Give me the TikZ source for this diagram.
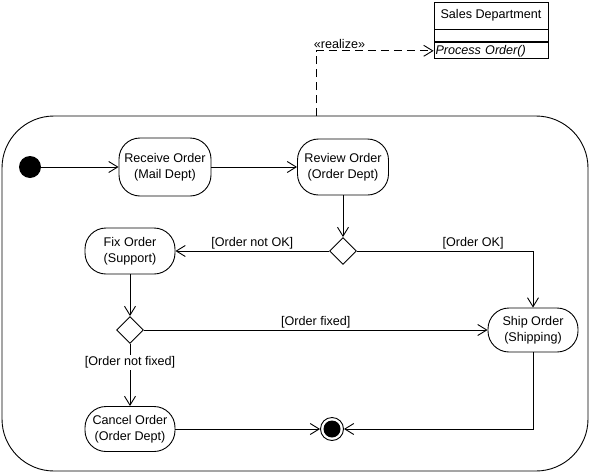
\documentclass[tikz,border=0pt]{standalone}
\usepackage{fontspec}
\setmainfont{Liberation Sans}
\usetikzlibrary{arrows.meta,positioning,shapes.geometric}

\tikzset{
  activity/.style={draw, rectangle, rounded corners=21pt, minimum width=90pt, minimum height=46pt, align=center, inner sep=0pt, font=\fontsize{12.6}{16.5}\selectfont},
  decision/.style={draw, diamond, minimum width=27pt, minimum height=27pt, inner sep=0pt},
  guard/.style={font=\fontsize{12.6}{14}\selectfont, inner sep=1.5pt},
  classpart/.style={draw, rectangle, minimum width=114pt, inner sep=0pt, font=\fontsize{12.6}{14}\selectfont},
  flow/.style={-{Straight Barb[length=9pt,width=11pt]}},
}

\begin{document}
\begin{tikzpicture}[x=1pt, y=-1pt, line width=0.9pt]
    \useasboundingbox (0,0) rectangle (591,474);

    % Activity region
    \node[draw, rounded corners=52pt, minimum width=586pt, minimum height=355pt, inner sep=0pt] (region) at (295,293.5) {};

    % Class
    \node[classpart, minimum height=27pt] (dept) at (491,15.5) {Sales Department};
    \node[classpart, minimum height=12pt, below=0pt of dept] (deptattr) {};
    \node[classpart, minimum height=16pt, below=0pt of deptattr, text width=111pt, align=left, font=\fontsize{12.6}{14}\selectfont\itshape] (deptops) {Process Order()};

    % Nodes
    \node[fill, circle, minimum size=22pt, inner sep=0pt] (start) at (30,167) {};
    \node[activity, minimum width=92pt, minimum height=58pt] (receive) at (165,167) {Receive Order\\(Mail Dept)};
    \node[activity, minimum width=91pt, minimum height=56pt] (review) at (343,167) {Review Order\\(Order Dept)};
    \node[decision] (okcheck) at (343,251) {};
    \node[activity] (fix) at (130,251) {Fix Order\\(Support)};
    \node[decision] (fixcheck) at (130,330) {};
    \node[activity, minimum height=44pt] (ship) at (533,330) {Ship Order\\(Shipping)};
    \node[activity, minimum height=45pt] (cancel) at (130,429) {Cancel Order\\(Order Dept)};
    \node[draw, circle, minimum size=23pt, inner sep=0pt] (end) at (332,429) {};
    \node[fill, circle, minimum size=17pt, inner sep=0pt] (endcore) at (end) {};
    \coordinate (realize) at (316,116);

    % Arrows
    \draw[flow] (start) -- (receive);
    \draw[flow] (receive) -- (review);
    \draw[flow] (review) -- (okcheck);
    \draw[flow] (okcheck) -- node[guard, above] {[Order not OK]} (fix);
    \draw[flow] (okcheck.east) -| node[guard, above, pos=0.33] {[Order OK]} (ship);
    \draw[flow] (fix) -- (fixcheck);
    \draw[flow] (fixcheck) -- node[guard, above] {[Order fixed]} (ship);
    \draw[flow] (fixcheck) -- node[guard, fill=white, pos=0.3] {[Order not fixed]} (cancel);
    \draw[flow] (cancel) -- (end);
    \draw[flow] (ship) |- (end);
    \draw[flow, dash pattern=on 8pt off 5pt] (realize) |- node[guard, above, pos=0.6] {«realize»} (deptops.west);
\end{tikzpicture}
\end{document}
